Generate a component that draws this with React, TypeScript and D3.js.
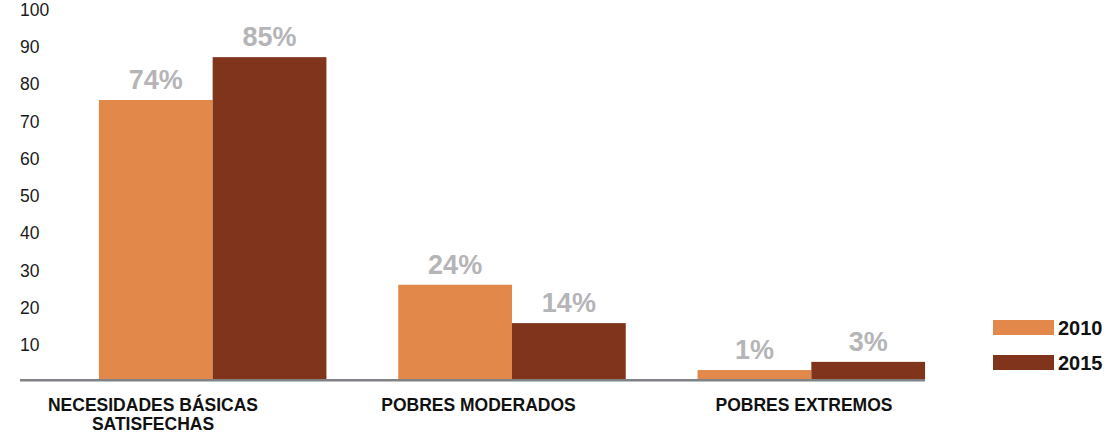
import React from "react";
import * as d3 from "d3";

const categories = ["NECESIDADES BÁSICAS SATISFECHAS", "POBRES MODERADOS", "POBRES EXTREMOS"];
const categoryLines = [["NECESIDADES BÁSICAS", "SATISFECHAS"], ["POBRES MODERADOS"], ["POBRES EXTREMOS"]];
const years = ["2010", "2015"];
const values2010 = [74.9, 25.3, 2.4];
const values2015 = [86.4, 15.0, 4.6];
const labels2010 = ["74%", "24%", "1%"];
const labels2015 = ["85%", "14%", "3%"];
const yTicks = [10, 20, 30, 40, 50, 60, 70, 80, 90, 100];

const colors = ["#e2884a", "#7f341b"];
const labelFont = "'Liberation Sans', Arial, sans-serif";

const App = () => {
  const width = 1111;
  const height = 434;

  const x = d3.scaleBand<string>().domain(categories).range([63, 961]).paddingInner(0.24).paddingOuter(0.12);
  const xSub = d3.scaleBand<string>().domain(years).range([0, x.bandwidth()]);
  const xLabel = d3.scalePoint<string>().domain(categories).range([153, 804]);
  const y = d3.scaleLinear().domain([0, 100]).range([379, 6.5]);

  const series = [
    { year: years[0], values: values2010, labels: labels2010 },
    { year: years[1], values: values2015, labels: labels2015 },
  ];

  return (
    <svg width={width} height={height} style={{ position: "absolute", left: 0, top: 0 }}>
      <rect width={width} height={height} fill="#fff" />
      {yTicks.map((t) => (
        <text key={t} x={20} y={y(t) + 3 + 6.3} fontFamily={labelFont} fontSize={17.5} fill="#1a1a1a">
          {t}
        </text>
      ))}
      {series.map((s, si) =>
        categories.map((c, ci) => {
          const bx = (x(c) ?? 0) + (xSub(s.year) ?? 0);
          const by = y(s.values[ci]);
          return (
            <g key={s.year + c}>
              <rect x={bx} y={by} width={xSub.bandwidth()} height={y(0) - by} fill={colors[si]} />
              <text
                x={bx + xSub.bandwidth() / 2}
                y={by - 11}
                textAnchor="middle"
                fontFamily={labelFont}
                fontWeight="bold"
                fontSize={27}
                fill="#b5b5b7"
              >
                {s.labels[ci]}
              </text>
            </g>
          );
        })
      )}
      <line x1={20} x2={925} y1={380.2} y2={380.2} stroke="#808285" strokeWidth={2.6} />
      {categories.map((c, ci) => (
        <text key={c} x={xLabel(c)} y={411} textAnchor="middle" fontFamily={labelFont} fontWeight="bold" fontSize={17.5} fill="#111">
          {categoryLines[ci].map((line, li) => (
            <tspan key={line} x={xLabel(c)} dy={li === 0 ? 0 : 19}>
              {line}
            </tspan>
          ))}
        </text>
      ))}
      {years.map((yr, i) => (
        <g key={yr} transform={`translate(993, ${320 + i * 35})`}>
          <rect width={61} height={15} fill={colors[i]} />
          <text x={65} y={15} fontFamily={labelFont} fontWeight="bold" fontSize={20} fill="#111">
            {yr}
          </text>
        </g>
      ))}
    </svg>
  );
};

export default App;
